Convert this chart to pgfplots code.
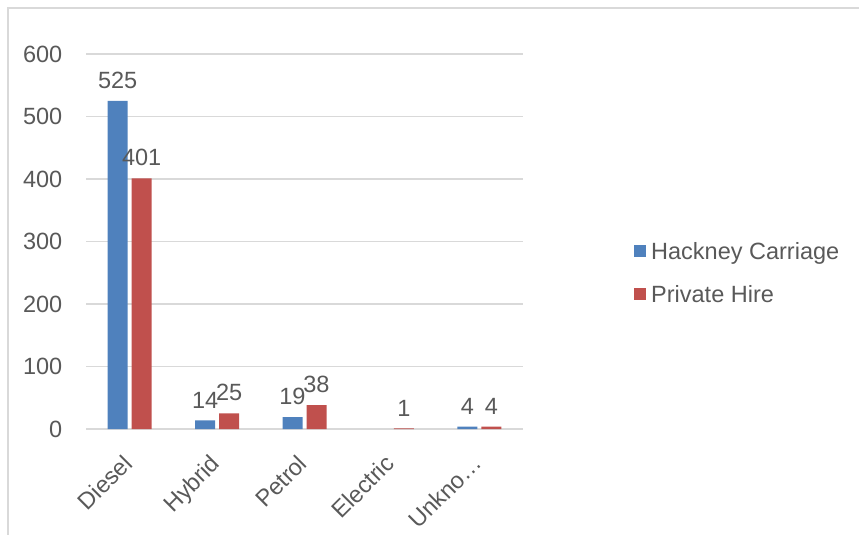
\documentclass[border=0pt]{standalone}
\usepackage{pgfplots}
\pgfplotsset{compat=1.18}
\usepackage{fontspec}
\setmainfont{Liberation Sans}
\definecolor{txt}{HTML}{595959}
\definecolor{hc}{HTML}{4F81BD}
\definecolor{ph}{HTML}{C0504D}
\definecolor{gridgray}{HTML}{D9D9D9}
\newcommand\cf{\fontsize{23.5pt}{28pt}\selectfont}
\begin{document}
\begin{tikzpicture}
\begin{axis}[
  at={(86pt,106pt)}, anchor=south west,
  scale only axis, width=437pt, height=375pt,
  ybar=4pt, bar width=20pt,
  xmin=-0.5, xmax=4.5, ymin=0, ymax=600,
  enlargelimits=false, clip=false,
  xtick={0,1,2,3,4},
  xticklabels={Diesel,Hybrid,Petrol,Electric,Unkno…},
  ytick={0,100,...,600},
  major tick length=0pt,
  axis x line*=bottom, axis y line*=left,
  y axis line style={draw=none},
  x axis line style={draw=gridgray, line width=1.2pt},
  ymajorgrids, grid style={gridgray, line width=1.2pt},
  /pgf/number format/assume math mode=true,
  yticklabel style={font=\cf, text=txt, anchor=east, inner sep=0pt, xshift=-23.5pt},
  xticklabel style={font=\cf, text=txt, xshift=-8pt, yshift=-24pt, rotate=45, anchor=north east, inner sep=0pt},
  nodes near coords,
  every node near coord/.append style={font=\cf, text=txt, anchor=south, inner sep=0pt, yshift=12pt},
  legend style={at={(1.254,0.409)}, anchor=west, draw=none, fill=none, inner sep=0pt,
    font=\cf, text=txt, row sep=24pt,
    nodes={inner ysep=2pt, inner xsep=5pt, text height=0.75em, text depth=0.22em}},
  legend cell align=left,
]
\addplot[fill=hc, draw=none, legend image code/.code={\fill[hc] (0pt,0pt) rectangle (12pt,12pt);}]
  coordinates {(0,525) (1,14) (2,19) (4,4)};
\addplot[fill=ph, draw=none, legend image code/.code={\fill[ph] (0pt,0pt) rectangle (12pt,12pt);}]
  coordinates {(0,401) (1,25) (2,38) (3,1) (4,4)};
\legend{Hackney Carriage, Private Hire}
\end{axis}
\draw[gridgray, line width=1.2pt] (8pt,0pt) -- (8pt,527pt) -- (870pt,527pt);
\pgfresetboundingbox
\path[use as bounding box] (0pt,0pt) rectangle (859pt,535pt);
\end{tikzpicture}
\end{document}
